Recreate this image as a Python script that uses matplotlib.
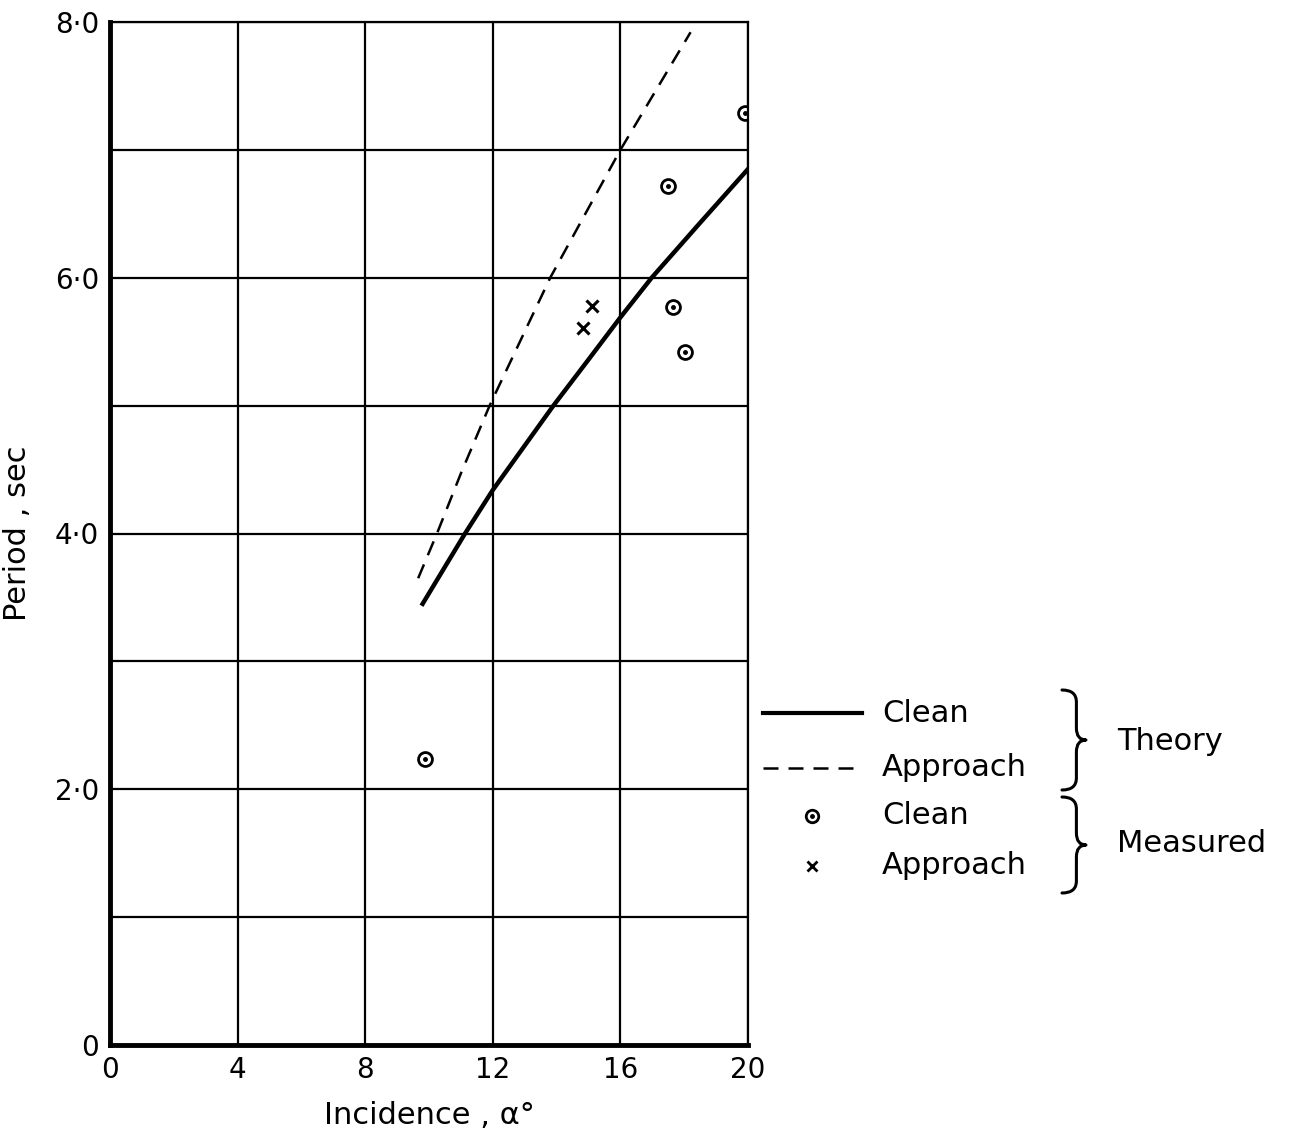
import numpy as np
import matplotlib.pyplot as plt
from matplotlib.path import Path
from matplotlib.patches import PathPatch

# theory curves
clean_th_x = [9.8, 11.13, 12.0, 13.9, 15.0, 16.0, 16.98, 18.5, 20.0]
clean_th_y = [3.45, 4.0, 4.34, 5.0, 5.36, 5.69, 6.0, 6.43, 6.85]
appr_th_x = [9.66, 10.25, 11.0, 11.9, 13.8, 16.0, 18.2]
appr_th_y = [3.65, 4.0, 4.47, 5.0, 6.0, 7.0, 7.92]

# measured points
clean_ms_x = [9.87, 17.5, 17.64, 18.03, 19.9]
clean_ms_y = [2.24, 6.72, 5.77, 5.42, 7.29]
appr_ms_x = [14.84, 15.1]
appr_ms_y = [5.61, 5.78]

xticks = [0, 4, 8, 12, 16, 20]
yticks = [0, 2, 4, 6, 8]
ytick_labels = ['0', '2·0', '4·0', '6·0', '8·0']

W, H = 1307, 1128
fig = plt.figure(figsize=(W / 100, H / 100), dpi=100)
ax = fig.add_axes([110 / W, 1 - 1045 / H, (748 - 110) / W, (1045 - 22) / H])

ax.set_xlim(0, 20)
ax.set_ylim(0, 8)
ax.set_xticks(xticks)
ax.set_yticks(yticks)
ax.set_yticklabels(ytick_labels)
ax.set_yticks(np.arange(0, 9, 1), minor=True)
ax.grid(True, which='both', color='black', linewidth=1.6)
ax.tick_params(which='both', length=0, labelsize=20, pad=8)
for s in ['left', 'bottom']:
    ax.spines[s].set_linewidth(3.5)
for s in ['top', 'right']:
    ax.spines[s].set_linewidth(1.6)

ax.plot(clean_th_x, clean_th_y, color='black', linewidth=3.2)
ax.plot(appr_th_x, appr_th_y, color='black', linewidth=1.8, dashes=(6, 4))
ax.plot(clean_ms_x, clean_ms_y, 'o', color='black', mfc='white', mew=2, ms=10)
ax.plot(clean_ms_x, clean_ms_y, 'o', color='black', ms=2.5)
ax.plot(appr_ms_x, appr_ms_y, 'x', color='black', mew=2.2, ms=9)

ax.set_xlabel('Incidence , α°', fontsize=22, labelpad=12)
ax.set_ylabel('Period , sec', fontsize=22, labelpad=16)

# legend drawn in pixel space
lg = fig.add_axes([0, 0, 1, 1])
lg.set_xlim(0, W)
lg.set_ylim(H, 0)
lg.axis('off')
lg.patch.set_alpha(0)

fs = 22
lg.plot([763, 862], [713, 713], color='black', linewidth=3.0)
lg.plot([763, 862], [768, 768], color='black', linewidth=1.8, dashes=(6, 4))
lg.plot([812], [816], 'o', color='black', mfc='white', mew=2, ms=9)
lg.plot([812], [816], 'o', color='black', ms=2.5)
lg.plot([812], [866], 'x', color='black', mew=2, ms=7)
for yy, txt in [(713, 'Clean'), (768, 'Approach'), (816, 'Clean'), (866, 'Approach')]:
    lg.text(882, yy, txt, fontsize=fs, va='center', ha='left')


def brace(x, y0, y1, w):
    ym = (y0 + y1) / 2
    a = x + w * 0.6
    r = 12
    verts = [(x, y0), (a, y0), (a, y0 + r),
             (a, ym - r),
             (a, ym), (x + w, ym),
             (a, ym), (a, ym + r),
             (a, y1 - r),
             (a, y1), (x, y1)]
    codes = [Path.MOVETO, Path.CURVE3, Path.CURVE3,
             Path.LINETO,
             Path.CURVE3, Path.CURVE3,
             Path.CURVE3, Path.CURVE3,
             Path.LINETO,
             Path.CURVE3, Path.CURVE3]
    lg.add_patch(PathPatch(Path(verts, codes), fill=False, linewidth=2.2,
                           edgecolor='black', capstyle='round', joinstyle='round'))


brace(1062, 690, 790, 24)
brace(1062, 797, 893, 24)
lg.text(1117, 741, 'Theory', fontsize=fs, va='center', ha='left')
lg.text(1117, 843, 'Measured', fontsize=fs, va='center', ha='left')

fig.savefig('out.png', dpi=100)
